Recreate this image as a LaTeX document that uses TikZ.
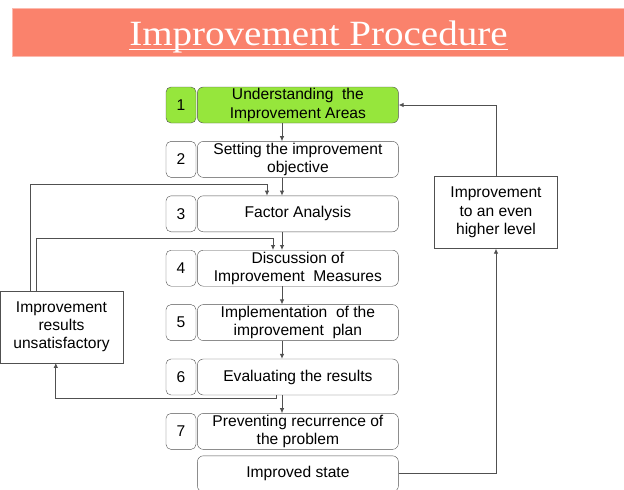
\documentclass[tikz,border=0pt]{standalone}
\usepackage{fontspec}
\setmainfont{Liberation Sans}
\newfontfamily\titlefont[FakeStretch=1.1]{Liberation Serif}
\usetikzlibrary{arrows.meta,positioning,calc}
\definecolor{salmon}{RGB}{250,130,108}
\definecolor{lime}{RGB}{150,230,60}
\definecolor{edge}{RGB}{80,80,80}

\begin{document}
\begin{tikzpicture}[x=1pt,y=-1pt,every node/.style={font=\fontsize{15.6}{18.3}\selectfont,align=center,inner sep=0pt},
    numbox/.style={draw=edge,rounded corners=5pt,minimum width=30pt,minimum height=36pt},
    stepbox/.style={draw=edge,rounded corners=6pt,minimum width=201pt,minimum height=36pt},
    notebox/.style={draw=edge,minimum width=123pt,minimum height=72pt},
    arr/.style={-{Latex[length=5pt,width=4.5pt]},edge,line width=0.8pt}]
    \useasboundingbox (0,0) rectangle (624,490);
    % title banner
    \node[fill=salmon,draw=salmon!55!white,minimum width=612pt,minimum height=48pt] (banner) at (318,32) {};
    \node[anchor=base,text=white,font=\titlefont\fontsize{35.5}{40}\selectfont] (ttl) at (318.5,45) {Improvement Procedure};
    \draw[white,line width=1.2pt] ([yshift=-4.3pt]ttl.base west) -- ([yshift=-4.3pt]ttl.base east);
    % steps
    \node[numbox,fill=lime] (n1) at (181,105) {1};
    \node[stepbox,fill=lime,right=1pt of n1] (s1) {Understanding\ \ the\\Improvement Areas};
    \node[numbox,below=18pt of n1] (n2) {2};
    \node[stepbox,right=1pt of n2] (s2) {Setting the improvement\\objective};
    \node[numbox,below=18pt of n2] (n3) {3};
    \node[stepbox,right=1pt of n3] (s3) {Factor Analysis};
    \node[numbox,below=18pt of n3] (n4) {4};
    \node[stepbox,right=1pt of n4] (s4) {Discussion of\\Improvement\ \ Measures};
    \node[numbox,below=18pt of n4] (n5) {5};
    \node[stepbox,right=1pt of n5] (s5) {Implementation\ \ of the\\improvement\ \ plan};
    \node[numbox,below=18pt of n5] (n6) {6};
    \node[stepbox,right=1pt of n6] (s6) {Evaluating the results};
    \node[numbox,below=18pt of n6] (n7) {7};
    \node[stepbox,right=1pt of n7] (s7) {Preventing recurrence of\\the problem};
    \node[stepbox,below=6pt of s7] (s8) {Improved state};
    % side boxes
    \node[notebox] (bad) at (61.5,326.7) {Improvement\\results\\unsatisfactory};
    \node[notebox] (up) at (496,212.5) {Improvement\\to an even\\higher level};
    % arrows
    \coordinate (ax) at (282,0);
    \coordinate (back3) at (267,184);
    \coordinate (back4) at (273,238);
    \coordinate (fail) at (276,398);
    \draw[arr] (s1.south -| ax) -- (s2.north -| ax);
    \draw[arr] (s2.south -| ax) -- (s3.north -| ax);
    \draw[arr] (s3.south -| ax) -- (s4.north -| ax);
    \draw[arr] (s4.south -| ax) -- (s5.north -| ax);
    \draw[arr] (s5.south -| ax) -- (s6.north -| ax);
    \draw[arr] (s6.south -| ax) -- (s7.north -| ax);
    \draw[arr] ([xshift=30.5pt]bad.north west) |- (back3) -- (back3 |- s3.north);
    \draw[arr] ([xshift=36.5pt]bad.north west) |- (back4) -- (back4 |- s4.north);
    \draw[arr] (fail |- s6.south) -- (fail) -| ([xshift=56pt]bad.south west);
    \draw[arr] (s8.east) -| (up.south);
    \draw[arr] (up.north) |- (s1.east);
  \end{tikzpicture}
\end{document}
